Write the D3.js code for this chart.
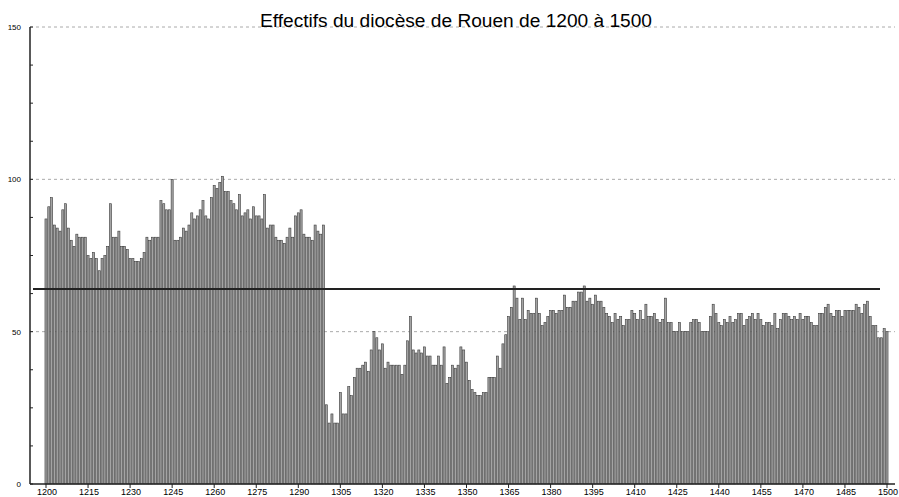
<!DOCTYPE html>
<head>
  <meta charset="utf-8">
  <script src="https://cdn.jsdelivr.net/npm/d3@7"></script>
  <style>
    body { margin:0; background:#fff; }
    .grid { stroke:#aaa; stroke-dasharray:3,3; stroke-width:1; }
  </style>
</head>
<body>
<script>
    // years 1200..1500, one value per year
    var firstYear = 1200;
    var effectifs = [
      87, 91, 94, 85, 84, 83, 90, 92, 84, 80, 78, 82, 81, 81, 81, 75, 74, 76, 74, 70,
      74, 75, 78, 92, 81, 81, 83, 78, 78, 77, 74, 74, 73, 73, 74, 76, 81, 80, 81, 81,
      81, 93, 92, 90, 90, 100, 80, 80, 81, 84, 83, 85, 89, 87, 88, 90, 93, 88, 87, 94,
      98, 97, 99, 101, 96, 96, 93, 92, 90, 95, 88, 89, 90, 87, 91, 88, 88, 87, 95, 84,
      85, 85, 81, 80, 80, 79, 81, 84, 81, 88, 89, 90, 82, 81, 81, 80, 85, 83, 82, 85,
      26, 20, 23, 20, 20, 30, 23, 23, 32, 29, 35, 38, 38, 39, 40, 37, 44, 50, 48, 44,
      46, 38, 40, 39, 39, 39, 39, 36, 39, 47, 55, 44, 43, 44, 43, 45, 42, 42, 39, 39,
      42, 39, 45, 33, 35, 39, 38, 39, 45, 44, 40, 34, 31, 30, 29, 29, 30, 30, 35, 35,
      35, 42, 38, 46, 49, 55, 58, 65, 61, 54, 61, 54, 57, 56, 56, 61, 56, 52, 53, 55,
      57, 57, 56, 57, 57, 62, 58, 58, 60, 60, 63, 63, 65, 60, 61, 59, 62, 60, 60, 58,
      56, 55, 53, 56, 54, 55, 52, 54, 54, 57, 56, 54, 57, 54, 59, 55, 55, 56, 54, 53,
      54, 61, 53, 53, 50, 50, 53, 50, 50, 50, 53, 54, 54, 53, 50, 50, 50, 55, 59, 56,
      53, 52, 54, 53, 55, 53, 54, 56, 56, 52, 54, 55, 56, 54, 56, 54, 52, 53, 53, 52,
      56, 51, 54, 56, 56, 55, 54, 55, 54, 56, 54, 55, 55, 53, 52, 52, 56, 56, 58, 59,
      56, 55, 57, 57, 55, 57, 57, 57, 57, 59, 58, 56, 59, 60, 55, 52, 52, 48, 48, 51,
      50
    ];
    var moyenne = 64;
    var yTicks = [0, 50, 100, 150];
    var xTicks = d3.range(1200, 1501, 15);
    var titre = "Effectifs du diocèse de Rouen de 1200 à 1500";

    var data = effectifs.map(function(v, i) { return {year: firstYear + i, value: v}; });

    var width = 899, height = 497;
    var svg = d3.select("body").append("svg")
        .attr("width", width)
        .attr("height", height)
        .style("font-family", "Liberation Sans, Arial, sans-serif");

    var x = d3.scaleLinear().domain([1200, 1500]).range([46, 887]);
    var y = d3.scaleLinear().domain([0, 150]).range([484, 27]);
    var axisX0 = 30, axisX1 = 895;

    // dashed grid
    svg.selectAll("line.grid").data(yTicks.filter(function(d) { return d > 0; }))
      .enter().append("line")
        .attr("class", "grid")
        .attr("x1", axisX0).attr("x2", axisX1)
        .attr("y1", function(d) { return y(d); })
        .attr("y2", function(d) { return y(d); });

    // bars
    var step = x(1201) - x(1200);
    var bw = step * 0.74;
    svg.selectAll("rect.bar").data(data).enter()
      .append("rect")
        .attr("class", "bar")
        .attr("x", function(d) { return x(d.year) - bw / 2; })
        .attr("y", function(d) { return y(d.value); })
        .attr("width", bw)
        .attr("height", function(d) { return y(0) - y(d.value); })
        .attr("fill", "#a4a4a4")
        .attr("stroke", "#3c3c3c")
        .attr("stroke-width", 0.6);

    // mean line
    svg.append("line")
        .attr("x1", 33).attr("x2", 880)
        .attr("y1", y(moyenne)).attr("y2", y(moyenne))
        .attr("stroke", "#222")
        .attr("stroke-width", 2);

    // y axis, ticks every 12.5 pointing inside
    svg.append("line")
        .attr("x1", axisX0).attr("x2", axisX0)
        .attr("y1", y(150)).attr("y2", y(0))
        .attr("stroke", "#222").attr("stroke-width", 1.5);
    svg.selectAll("line.ytick").data(d3.range(0, 150.1, 12.5)).enter()
      .append("line")
        .attr("x1", axisX0).attr("x2", axisX0 + 3)
        .attr("y1", function(d) { return y(d); })
        .attr("y2", function(d) { return y(d); })
        .attr("stroke", "#222");
    svg.selectAll("text.ylab").data(yTicks).enter()
      .append("text")
        .attr("x", 21)
        .attr("y", function(d) { return y(d) + 3; })
        .attr("text-anchor", "end")
        .style("font-size", "8px")
        .text(function(d) { return d; });

    // x axis
    svg.append("line")
        .attr("x1", axisX0).attr("x2", axisX1)
        .attr("y1", y(0)).attr("y2", y(0))
        .attr("stroke", "#222").attr("stroke-width", 1.5);
    svg.selectAll("line.xtick").data(xTicks).enter()
      .append("line")
        .attr("x1", function(d) { return x(d); })
        .attr("x2", function(d) { return x(d); })
        .attr("y1", y(0)).attr("y2", y(0) + 4)
        .attr("stroke", "#222");
    svg.selectAll("text.xlab").data(xTicks).enter()
      .append("text")
        .attr("x", function(d) { return x(d) + 1; })
        .attr("y", 495)
        .attr("text-anchor", "middle")
        .style("font-size", "9px")
        .text(function(d) { return d; });

    // title
    svg.append("text")
        .attr("x", 456)
        .attr("y", 27)
        .attr("text-anchor", "middle")
        .attr("textLength", 392)
        .attr("lengthAdjust", "spacingAndGlyphs")
        .style("font-size", "18px")
        .text(titre);
</script>
</body>
